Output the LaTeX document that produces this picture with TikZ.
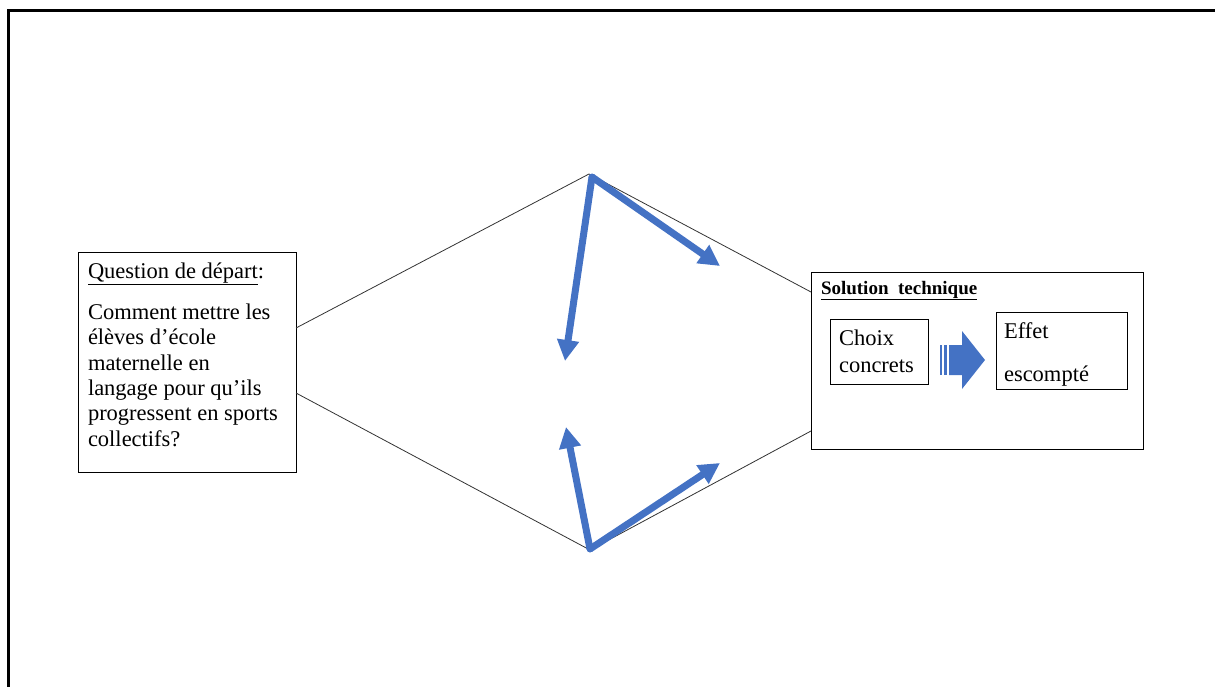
\documentclass[tikz,border=0pt]{standalone}
\usepackage{fontspec}
\setmainfont{Liberation Serif}
\usetikzlibrary{arrows.meta}
\definecolor{arrblue}{RGB}{68,114,196}
\begin{document}
\begin{tikzpicture}[x=1pt,y=-1pt,
  box/.style={draw=black,line width=1pt,inner sep=0pt,outer sep=0pt,anchor=north west},
  txt/.style={inner sep=0pt,outer sep=0pt,anchor=base west,align=left},
  thin/.style={draw=black!80,line width=0.8pt},
  bluearrow/.style={draw=arrblue,line width=7pt,-{Triangle[length=21pt,width=21pt]}},
]
\useasboundingbox (0,0) rectangle (1215,687);
% outer frame
\draw[line width=3pt] (8,690) -- (8,11) -- (1218,11);

% boxes
\node[box,minimum width=218pt,minimum height=220pt] (q) at (78,252) {};
\node[box,minimum width=332pt,minimum height=177pt] (sol) at (811,272) {};
\node[box,minimum width=98pt,minimum height=65pt] (cc) at (830,319) {};
\node[box,minimum width=131pt,minimum height=77pt] (ee) at (996,312) {};

% texts (base anchor = baseline of last line)
\node[txt,font=\fontsize{22.5}{25.3}\selectfont] (qt) at (88,446)
  {\underline{Question de départ}:\\[15.7pt]Comment mettre les\\élèves d’école\\maternelle en\\langage pour qu’ils\\progressent en sports\\collectifs?};
\node[txt,font=\fontsize{19}{22}\selectfont\bfseries] (st) at (821,294) {\underline{Solution\ \ technique}};
\node[txt,font=\fontsize{22.5}{27}\selectfont] (cct) at (839,372) {Choix\\concrets};
\node[txt,font=\fontsize{22.5}{43}\selectfont] (eet) at (1004,381) {Effet\\escompté};

% block arrow between cc and ee
\fill[arrblue] (949,345) -- (962,345) -- (962,331) -- (985,360) -- (962,389) -- (962,375) -- (949,375) -- cycle;
\fill[arrblue] (940,345) rectangle (942,375);
\fill[arrblue] (944,345) rectangle (947,375);

% apex and attach coordinates
\coordinate (top) at (589,174);
\coordinate (bot) at (590,550);
\coordinate (qa) at (q.east |- 0,328);
\coordinate (qb) at (q.east |- 0,393);
\coordinate (sa) at (sol.west |- 0,292);
\coordinate (sb) at (sol.west |- 0,431);

\draw[thin] (qa) -- (top) -- (sa);
\draw[thin] (qb) -- (bot) -- (sb);

% blue arrows
\coordinate (topb) at (592,177);
\coordinate (botb) at (590,549);
\coordinate (t1) at (565,361);
\coordinate (t2) at (720,266);
\coordinate (b1) at (566,427);
\coordinate (b2) at (720,463);
\draw[bluearrow] (topb) -- (t1);
\draw[bluearrow] (topb) -- (t2);
\draw[bluearrow] (botb) -- (b1);
\draw[bluearrow] (botb) -- (b2);
\fill[arrblue] (topb) circle (3.5pt);
\fill[arrblue] (botb) circle (3.5pt);
\end{tikzpicture}
\end{document}
